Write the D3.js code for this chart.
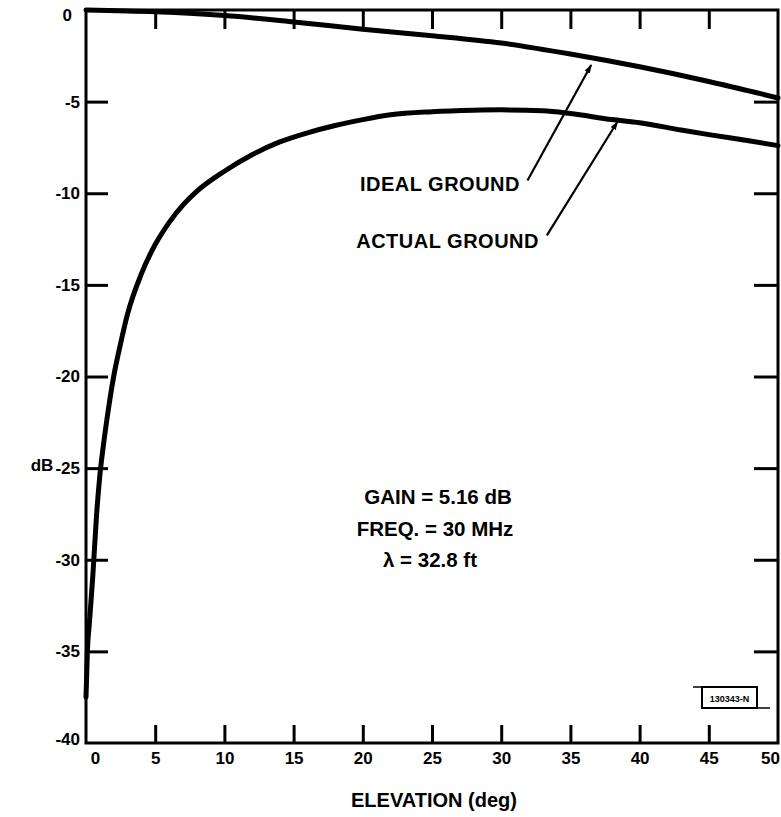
<!DOCTYPE html>
<html>
<head>
<meta charset="utf-8">
<script src="https://cdn.jsdelivr.net/npm/d3@7"></script>
<style>
  body { margin: 0; background: #fff; }
  text { font-family: "Liberation Sans", Arial, Helvetica, sans-serif; font-weight: bold; fill: #000; }
</style>
</head>
<body>
<div id="chart"></div>
<script>
// Data
//

// elevation angles (deg) and relative gain (dB)
var ideal_deg = [0, 5, 10, 15, 20, 25, 30, 35, 40, 45, 50];
var ideal_db = [0, -0.1, -0.3, -0.65, -1.05, -1.4, -1.8, -2.4, -3.1, -3.9, -4.8];

var actual_deg = [0, 0.1, 0.25, 0.5, 0.75, 1, 1.25, 1.5, 2, 2.5, 3, 4, 5, 6, 7, 8,
                  10, 12, 14, 16, 18, 20, 22, 25, 28, 30, 33, 35, 38, 40, 43, 45, 48, 50];
var actual_db = [-37.5, -35, -33.4, -30.8, -27.7, -25.4, -23.8, -22.4, -20, -18.2, -16.6, -14.4, -12.8, -11.6, -10.65, -9.9,
                 -8.8, -7.9, -7.2, -6.7, -6.3, -5.98, -5.72, -5.55, -5.47, -5.45, -5.5, -5.65, -5.98, -6.15, -6.55, -6.8, -7.15, -7.4];

var x_ticks = [0, 5, 10, 15, 20, 25, 30, 35, 40, 45, 50];
var y_ticks = [0, -5, -10, -15, -20, -25, -30, -35, -40];

var notes = ["GAIN = 5.16 dB", "FREQ. = 30 MHz", "\u03bb = 32.8 ft"];

// Layout
//
var width = 781, height = 817;
var plot_left = 86, plot_right = 778, plot_top = 10, plot_bottom = 743;

var svg = d3.select("#chart").append("svg")
  .attr("width", width)
  .attr("height", height);

var x = d3.scaleLinear().domain([0, 50]).range([plot_left, plot_right]);
var y = d3.scaleLinear().domain([0, -40]).range([plot_top, plot_bottom]);

// inner ticks on all four sides
var inner_x = x_ticks.filter(function(d) { return d > 0 && d < 50; });
var inner_y = y_ticks.filter(function(d) { return d < 0 && d > -40; });

function styleAxis(g) {
  g.select(".domain").remove();
  g.selectAll(".tick line").attr("stroke", "#000").attr("stroke-width", 3);
  g.selectAll(".tick text").style("font-size", "17px").attr("fill", "#000");
}

svg.append("g")
  .attr("transform", "translate(0," + plot_bottom + ")")
  .call(d3.axisBottom(x).tickValues(x_ticks).tickSizeInner(-18).tickSizeOuter(0).tickPadding(9)
        .tickFormat(function(d) { return String(d); }))
  .call(styleAxis)
  .call(function(g) {
    g.selectAll(".tick").filter(function(d) { return d === 0 || d === 50; }).select("line").remove();
    g.selectAll(".tick").filter(function(d) { return d === 0; }).select("text").attr("dx", 9);
    g.selectAll(".tick").filter(function(d) { return d === 50; }).select("text").attr("dx", -8);
  });

svg.append("g")
  .attr("transform", "translate(" + plot_left + ",0)")
  .call(d3.axisLeft(y).tickValues(y_ticks).tickSizeInner(-22).tickSizeOuter(0).tickPadding(6)
        .tickFormat(function(d) { return String(d); }))
  .call(styleAxis)
  .call(function(g) {
    g.selectAll(".tick").filter(function(d) { return d === 0 || d === -40; }).select("line").remove();
    g.selectAll(".tick").filter(function(d) { return d === 0; }).select("text").attr("dx", -8).attr("dy", "0.6em");
    g.selectAll(".tick").filter(function(d) { return d === -40; }).select("text").attr("dy", "0.1em");
  });

svg.append("g")
  .attr("transform", "translate(0," + plot_top + ")")
  .call(d3.axisTop(x).tickValues(inner_x).tickSizeInner(-19).tickSizeOuter(0).tickFormat(""))
  .call(styleAxis);

svg.append("g")
  .attr("transform", "translate(" + plot_right + ",0)")
  .call(d3.axisRight(y).tickValues(inner_y).tickSizeInner(-24).tickSizeOuter(0).tickFormat(""))
  .call(styleAxis);

// frame
svg.append("rect")
  .attr("x", plot_left).attr("y", plot_top)
  .attr("width", plot_right - plot_left).attr("height", plot_bottom - plot_top)
  .attr("fill", "none").attr("stroke", "#000").attr("stroke-width", 3);

// curves
var line = d3.line()
  .x(function(d) { return x(d[0]); })
  .y(function(d) { return y(d[1]); })
  .curve(d3.curveMonotoneX);

svg.append("path")
  .datum(d3.zip(ideal_deg, ideal_db))
  .attr("d", line)
  .attr("fill", "none").attr("stroke", "#000").attr("stroke-width", 5)
  .attr("stroke-linecap", "round");

svg.append("path")
  .datum(d3.zip(actual_deg, actual_db))
  .attr("d", line)
  .attr("fill", "none").attr("stroke", "#000").attr("stroke-width", 5)
  .attr("stroke-linecap", "round");

// arrows with labels
svg.append("defs").append("marker")
  .attr("id", "head")
  .attr("viewBox", "0 0 10 10")
  .attr("refX", 9).attr("refY", 5)
  .attr("markerWidth", 9).attr("markerHeight", 6)
  .attr("markerUnits", "userSpaceOnUse")
  .attr("orient", "auto")
  .attr("preserveAspectRatio", "none")
  .append("path").attr("d", "M0,0 L10,5 L0,10 Z").attr("fill", "#000");

// arrows in data units: [from_deg, from_db, to_deg, to_db]
var arrows = [
  [31.9, -9.3, 36.5, -3.0],
  [33.3, -12.3, 38.4, -6.1]
];
svg.selectAll(".arrow")
  .data(arrows)
  .enter().append("line")
  .attr("class", "arrow")
  .attr("x1", function(d) { return x(d[0]); })
  .attr("y1", function(d) { return y(d[1]); })
  .attr("x2", function(d) { return x(d[2]); })
  .attr("y2", function(d) { return y(d[3]); })
  .attr("stroke", "#000").attr("stroke-width", 2.2)
  .attr("marker-end", "url(#head)");

svg.append("text")
  .attr("x", 520).attr("y", 191)
  .attr("text-anchor", "end")
  .style("font-size", "20px")
  .style("letter-spacing", "0.5px")
  .text("IDEAL  GROUND");

svg.append("text")
  .attr("x", 539).attr("y", 248)
  .attr("text-anchor", "end")
  .style("font-size", "20px")
  .style("letter-spacing", "0.5px")
  .text("ACTUAL  GROUND");

// parameter notes
var note_x = [438, 435, 430];
svg.selectAll(".note")
  .data(notes)
  .enter().append("text")
  .attr("class", "note")
  .attr("x", function(d, i) { return note_x[i]; })
  .attr("y", function(d, i) { return 504 + i * 31.5; })
  .attr("text-anchor", "middle")
  .style("font-size", "20.5px")
  .text(function(d) { return d; });

// axis titles
svg.append("text")
  .attr("x", 42).attr("y", 471)
  .attr("text-anchor", "middle")
  .style("font-size", "17px")
  .text("dB");

svg.append("text")
  .attr("x", 434).attr("y", 807)
  .attr("text-anchor", "middle")
  .style("font-size", "20px")
  .text("ELEVATION (deg)");

// drawing number tag
var tag = svg.append("g");
tag.append("line").attr("x1", 693).attr("x2", 757).attr("y1", 687).attr("y2", 687)
  .attr("stroke", "#000").attr("stroke-width", 1.5);
tag.append("line").attr("x1", 702).attr("x2", 770).attr("y1", 708).attr("y2", 708)
  .attr("stroke", "#000").attr("stroke-width", 1.5);
tag.append("rect").attr("x", 702).attr("y", 687).attr("width", 55).attr("height", 21)
  .attr("fill", "none").attr("stroke", "#000").attr("stroke-width", 2);
tag.append("text").attr("x", 729.5).attr("y", 701.5)
  .attr("text-anchor", "middle")
  .style("font-size", "9px")
  .text("130343-N");
</script>
</body>
</html>
